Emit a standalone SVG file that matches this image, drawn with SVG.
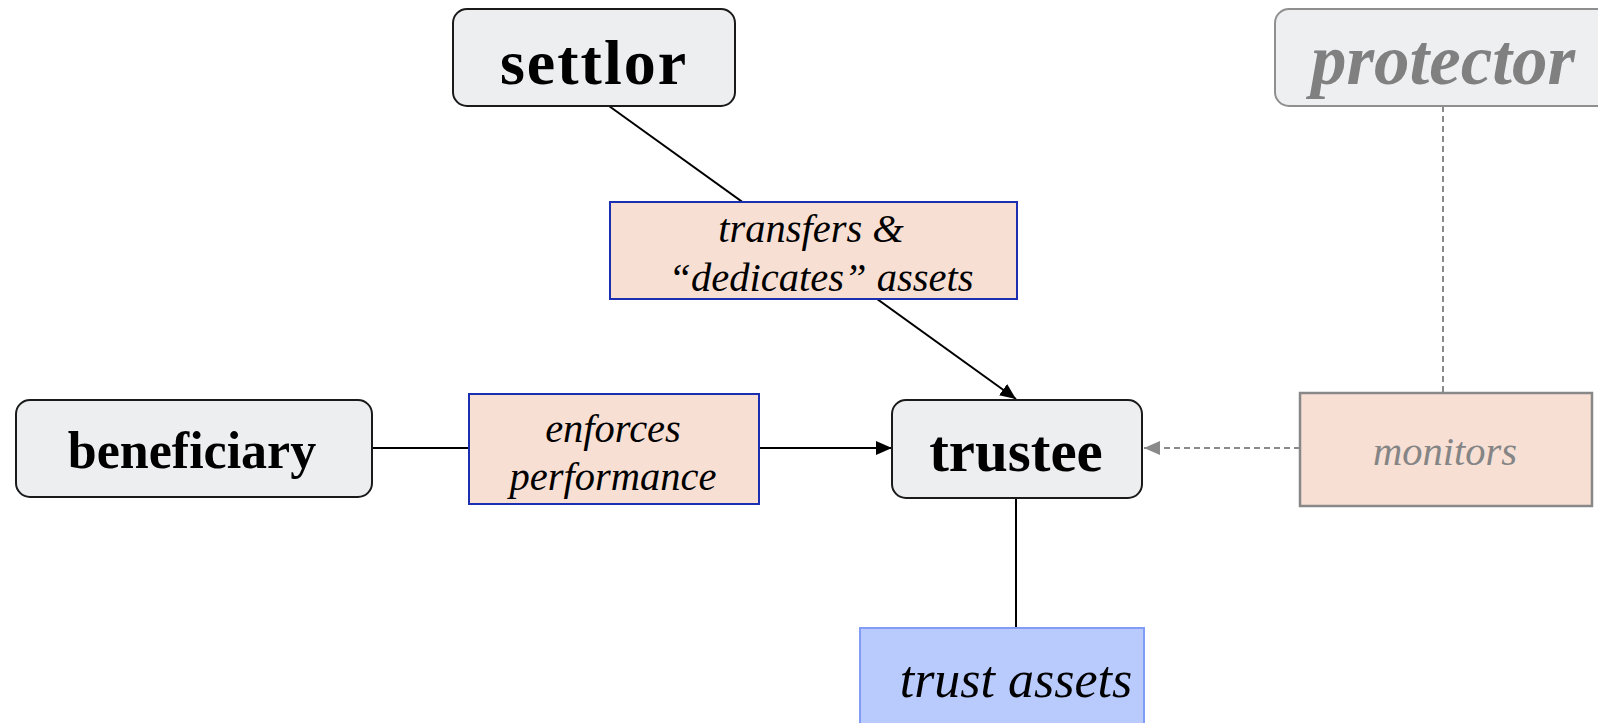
<svg xmlns="http://www.w3.org/2000/svg" width="1598" height="723" viewBox="0 0 1598 723">
  <style>
    .node { fill: #edeef0; stroke: #1a1a1a; stroke-width: 2; }
    .node-muted { fill: #eeeff1; stroke: #8f8f8f; stroke-width: 2; }
    .label { fill: #f7dfd4; stroke: #1b2fb0; stroke-width: 2; }
    .label-muted { fill: #f7dfd4; stroke: #888888; stroke-width: 2.5; }
    .assets { fill: #b9cafc; stroke: #809cf6; stroke-width: 2; }
    .title { font-family: "Liberation Serif", "Times New Roman", serif; font-weight: bold; fill: #000; text-anchor: middle; }
    .note { font-family: "Liberation Serif", "Times New Roman", serif; font-style: italic; fill: #000; text-anchor: middle; font-size: 40.5px; }
    .edge { stroke: #000; stroke-width: 2; fill: none; }
    .edge-muted { stroke: #8a8a8a; stroke-width: 2; fill: none; stroke-dasharray: 6 4; }
  </style>
  <defs>
    <marker id="arrow" viewBox="0 0 16 14" refX="16" refY="7" markerWidth="16" markerHeight="14" markerUnits="userSpaceOnUse" orient="auto">
      <path d="M0,0 L16,7 L0,14 z" fill="#000"/>
    </marker>
    <marker id="arrow-muted" viewBox="0 0 16 14" refX="16" refY="7" markerWidth="16" markerHeight="14" markerUnits="userSpaceOnUse" orient="auto">
      <path d="M0,0 L16,7 L0,14 z" fill="#8a8a8a"/>
    </marker>
  </defs>

  <!-- connectors -->
  <g id="connectors">
    <line class="edge" x1="609" y1="106" x2="1016" y2="399" marker-end="url(#arrow)"/>
    <line class="edge" x1="372" y1="448" x2="892" y2="448" marker-end="url(#arrow)"/>
    <line class="edge" x1="1016" y1="498" x2="1016" y2="628"/>
    <line class="edge-muted" x1="1443" y1="106" x2="1443" y2="393"/>
    <line class="edge-muted" x1="1300" y1="448" x2="1144" y2="448" marker-end="url(#arrow-muted)"/>
  </g>

  <g id="settlor">
    <rect class="node" x="453" y="9" width="282" height="97" rx="14"/>
    <text class="title" x="594" y="84" font-size="64" letter-spacing="2">settlor</text>
  </g>

  <g id="protector">
    <rect class="node-muted" x="1275" y="9" width="340" height="97" rx="14"/>
    <text class="title" x="1443" y="84" font-size="71" font-style="italic" style="fill:#808080">protector</text>
  </g>

  <g id="transfers-label">
    <rect class="label" x="610" y="202" width="407" height="97"/>
    <text class="note" x="811" y="242">transfers &amp;</text>
    <text class="note" x="821" y="291">“dedicates” assets</text>
  </g>

  <g id="beneficiary">
    <rect class="node" x="16" y="400" width="356" height="97" rx="14"/>
    <text class="title" x="192" y="468" font-size="52">beneficiary</text>
  </g>

  <g id="enforces-label">
    <rect class="label" x="469" y="394" width="290" height="110"/>
    <text class="note" x="613" y="442">enforces</text>
    <text class="note" x="613" y="490">performance</text>
  </g>

  <g id="trustee">
    <rect class="node" x="892" y="400" width="250" height="98" rx="14"/>
    <text class="title" x="1016" y="471" font-size="59">trustee</text>
  </g>

  <g id="monitors-label">
    <rect class="label-muted" x="1300" y="393" width="292" height="113"/>
    <text class="note" x="1445" y="465" style="fill:#858585">monitors</text>
  </g>

  <g id="trust-assets">
    <rect class="assets" x="860" y="628" width="284" height="110"/>
    <text class="note" x="1016" y="697" style="font-size:52px">trust assets</text>
  </g>
</svg>
